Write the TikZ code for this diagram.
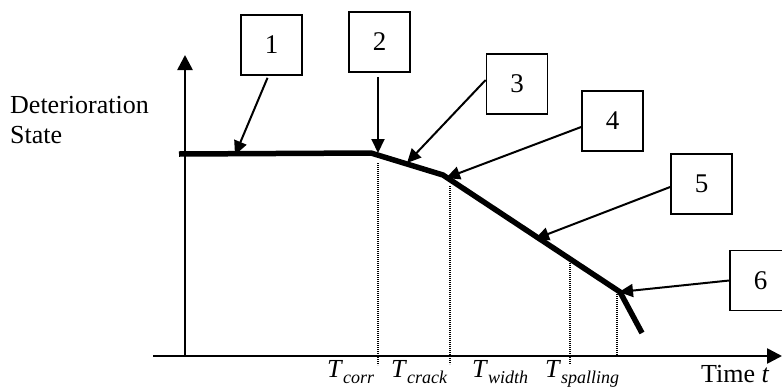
\documentclass[tikz,border=0pt]{standalone}
\usepackage{fontspec}
\setmainfont{Liberation Serif}
\usetikzlibrary{arrows.meta,calc}
\tikzset{
  numbox/.style={draw, line width=1.7pt, minimum width=61pt, minimum height=60pt, inner sep=0pt, font=\fontsize{27}{30}\selectfont},
  axisline/.style={line width=2.6pt, -{Triangle[length=15pt,width=15pt]}},
  callout/.style={line width=2pt, -{Triangle[length=14pt,width=13pt]}},
  curveline/.style={line width=5.5pt, line join=miter},
  guide/.style={line width=1.2pt, dash pattern=on 1.2pt off 0.8pt},
  lbl/.style={inner sep=0pt, anchor=base west, font=\fontsize{26}{30}\selectfont}
}
\newcommand{\tlab}[1]{\textit{T}\raisebox{-6pt}{\fontsize{18}{18}\selectfont\itshape #1}}
\begin{document}
\begin{tikzpicture}[x=1pt,y=-1pt]
\useasboundingbox (0,0) rectangle (782,389);
% axes
\coordinate (o) at (185,356);
\coordinate (ytop) at (185,55);
\coordinate (xl) at (153,356);
\coordinate (xr) at (782,356);
\draw[axisline] (o) -- (ytop);
\draw[axisline] (xl) -- (xr);
% curve
\coordinate (c0) at (179,154);
\coordinate (c1) at (371,153);
\coordinate (c2) at (443,175);
\coordinate (c3) at (620,292);
\coordinate (c4) at (642,333);
\draw[curveline] (c0) -- (c1) -- (c2) -- (c3) -- (c4);
% guides
\coordinate (g1t) at (378,163); \coordinate (g1b) at (378,365);
\coordinate (g2t) at (450,186); \coordinate (g2b) at (450,364);
\coordinate (g3t) at (570,261); \coordinate (g3b) at (570,364);
\coordinate (g4t) at (617,294); \coordinate (g4b) at (617,356);
\draw[guide] (g1t) -- (g1b);
\draw[guide] (g2t) -- (g2b);
\draw[guide] (g3t) -- (g3b);
\draw[guide] (g4t) -- (g4b);
% boxes
\node[numbox] (b1) at (271.5,45) {1};
\node[numbox] (b2) at (379.5,42) {2};
\node[numbox] (b3) at (517,84) {3};
\node[numbox] (b4) at (612.5,121) {4};
\node[numbox] (b5) at (701.5,184) {5};
\node[numbox] (b6) at (760.5,280.5) {6};
% callout targets
\coordinate (p1) at (235,155);
\coordinate (p2) at (378,153);
\coordinate (p3) at (407,163);
\coordinate (p4) at (446,178);
\coordinate (p5) at (535,239);
\coordinate (p6) at (619,292);
\draw[callout] ($(b1.south)+(-4,2)$) -- (p1);
\draw[callout] ($(b2.south)+(-1.5,4)$) -- (p2);
\draw[callout] ($(b3.west)+(0,-4)$) -- (p3);
\draw[callout] ($(b4.west)+(0,6)$) -- (p4);
\draw[callout] ($(b5.west)+(0,3)$) -- (p5);
\draw[callout] (b6.west) -- (p6);
% labels
\node[lbl] (ylab1) at (10,113) {Deterioration};
\node[lbl] (ylab2) at (10,143) {State};
\node[lbl] (xlab) at (701,382) {Time \textit{t}};
\node[lbl] (tcorr) at (327,377) {\tlab{corr}};
\node[lbl] (tcrack) at (391,377) {\tlab{crack}};
\node[lbl] (twidth) at (472,377) {\tlab{width}};
\node[lbl] (tspall) at (545,377) {\tlab{spalling}};
\end{tikzpicture}
\end{document}
